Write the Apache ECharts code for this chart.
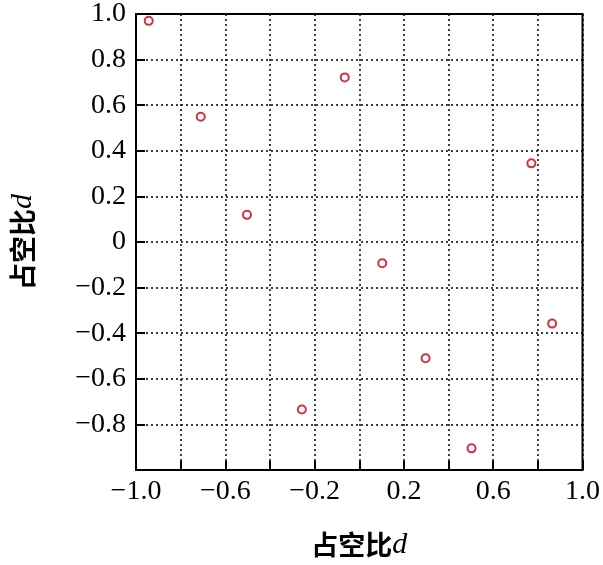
<!DOCTYPE html>
<html><head><meta charset="utf-8">
<script src="https://cdn.jsdelivr.net/npm/echarts@6/dist/echarts.min.js"></script>
<style>html,body{margin:0;background:#fff}#c{width:603px;height:565px}</style>
</head><body><div id="c"></div>
<script>
// 占空比 数据点
var xVals = [-0.943, -0.71, -0.503, -0.257, -0.065, 0.103, 0.297, 0.503, 0.771, 0.864];
var yVals = [0.97, 0.549, 0.119, -0.735, 0.722, -0.093, -0.51, -0.905, 0.345, -0.358];
var xTickLabels = ['-1.0', '-0.6', '-0.2', '0.2', '0.6', '1.0'];

var pts = [];
for (var i = 0; i < xVals.length; i++) pts.push([xVals[i], yVals[i]]);

function fmt(v) {
  if (Math.abs(v) < 1e-9) return '0';
  return v.toFixed(1).replace('-', '\u2212');
}
var serif = '"Liberation Serif", "Noto Sans CJK SC", serif';
var nameRich = {
  c: { fontFamily: '"Noto Sans CJK SC", serif', fontSize: 27, fontWeight: 'bold', color: '#000' },
  d: { fontFamily: '"Liberation Serif"', fontStyle: 'italic', fontSize: 30, color: '#000' }
};
function axisCommon() {
  return {
    type: 'value', min: -1, max: 1, interval: 0.2,
    axisLine: { show: true, onZero: false, lineStyle: { color: '#000', width: 2 } },
    axisTick: { show: true, inside: true, length: 9, lineStyle: { color: '#000', width: 2 } },
    splitLine: { show: true, lineStyle: { color: '#000', type: [2, 3], width: 1.5 } },
    nameLocation: 'middle',
    nameTextStyle: { rich: nameRich }
  };
}
var xAxis = axisCommon();
xAxis.name = '{c|占空比}{d|d}';
xAxis.nameGap = 60;
xAxis.axisLabel = {
  color: '#000', fontFamily: serif, fontSize: 28, margin: 8,
  formatter: function (v) {
    var s = v.toFixed(1);
    return xTickLabels.indexOf(s) >= 0 ? s.replace('-', '\u2212') : '';
  }
};
var yAxis = axisCommon();
yAxis.name = '{c|占空比}{d|d}';
yAxis.nameGap = 98;
yAxis.axisLabel = {
  color: '#000', fontFamily: serif, fontSize: 28, margin: 10, showMinLabel: false,
  formatter: fmt
};

var chart = echarts.init(document.getElementById('c'));
chart.setOption({
  animation: false,
  grid: { left: 128, right: 20, top: 13, bottom: 91, show: true, borderColor: '#000', borderWidth: 2 },
  xAxis: xAxis,
  yAxis: yAxis,
  series: [{
    type: 'scatter', data: pts, symbol: 'circle', symbolSize: 8,
    itemStyle: { color: '#fff', borderColor: '#c00018', borderWidth: 2 }
  }]
});
</script></body></html>
